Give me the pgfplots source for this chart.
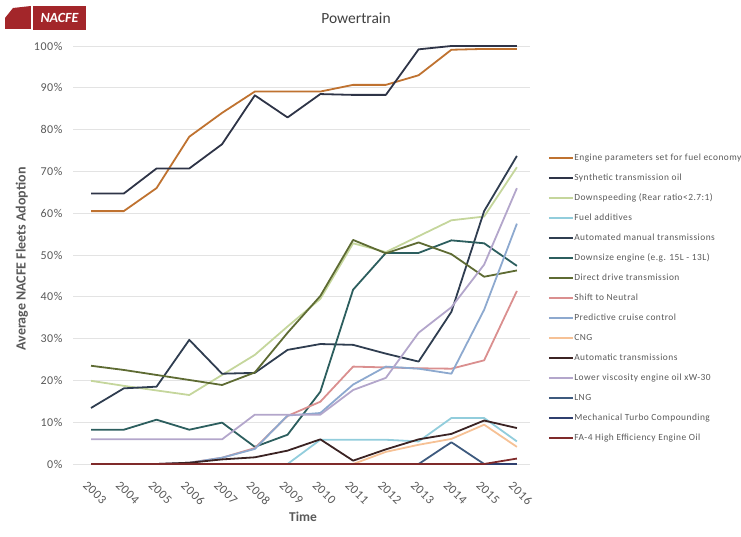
\documentclass[border=0pt]{standalone}
\usepackage{fontspec}
\setmainfont{Carlito}
\newfontfamily\legfont[LetterSpace=5]{Carlito}
\usepackage{pgfplots}
\usepackage{pgfplotstable}
\pgfplotsset{compat=1.18}
\definecolor{cEng}{HTML}{BF7230}
\definecolor{cSyn}{HTML}{2E3447}
\definecolor{cDown}{HTML}{C5D69C}
\definecolor{cFuel}{HTML}{92CDDC}
\definecolor{cAmt}{HTML}{2F3D50}
\definecolor{cDsz}{HTML}{2C5E5E}
\definecolor{cDdt}{HTML}{5E6B33}
\definecolor{cStn}{HTML}{DA8F8F}
\definecolor{cPcc}{HTML}{8DA9CF}
\definecolor{cCng}{HTML}{F6C195}
\definecolor{cAut}{HTML}{3B2323}
\definecolor{cLvo}{HTML}{B3A6CB}
\definecolor{cLng}{HTML}{3E5A7E}
\definecolor{cMtc}{HTML}{2F3F6E}
\definecolor{cFa}{HTML}{7F2A2A}
\definecolor{gridgray}{HTML}{E3E3E3}
\definecolor{tickgray}{HTML}{595959}
\definecolor{logored}{HTML}{A3262A}

\pgfplotstableread{
year eng  syn   down fuel amt  dsz  ddt  stn  pcc  cng aut  lvo  lng mtc fa
2003 60.5 64.7  19.9 0    13.4 8.2  23.5 0    0    0   0    5.9  0   0   0
2004 60.5 64.7  18.7 0    18.1 8.2  22.5 0    0    0   0    5.9  0   0   0
2005 66.0 70.7  17.6 0    18.5 10.6 21.3 0    0    0   0    5.9  0   0   0
2006 78.3 70.7  16.5 0    29.7 8.2  20.1 0.3  0.3  0   0.3  5.9  0   0   0
2007 84.0 76.5  21.3 0    21.6 9.9  18.9 1.5  1.5  0   1.1  5.9  0   0   0
2008 89.1 88.2  26.1 0    21.8 4.1  21.9 3.8  3.6  0   1.6  11.8 0   0   0
2009 89.1 82.9  32.9 0    27.3 7.0  31.4 11.5 11.6 0   3.2  11.8 0   0   0
2010 89.1 88.5  39.5 5.8  28.7 17.3 40.2 14.9 12.2 0   5.9  11.8 0   0   0
2011 90.7 88.3  52.8 5.8  28.5 41.7 53.6 23.3 19.0 0   0.8  17.7 0   0   0
2012 90.7 88.3  50.7 5.8  26.4 50.5 50.4 23.1 23.3 2.9 3.5  20.6 0   0   0
2013 93.0 99.2  54.5 5.4  24.5 50.5 53.0 22.9 22.8 4.6 5.9  31.4 0   0   0
2014 99.1 100   58.3 11.0 36.4 53.5 50.2 22.8 21.6 6.0 7.2  37.5 5.2 0   0
2015 99.3 100   59.2 11.0 60.5 52.8 44.8 24.8 36.9 9.4 10.4 47.7 0   0   0
2016 99.3 100   71.0 5.4  73.7 47.4 46.3 41.4 57.5 4.1 8.6  66.0 0   0   1.3
}\data

\begin{document}
\begin{tikzpicture}[x=1pt,y=1pt]
\path[use as bounding box] (0,0) rectangle (741,537);
\begin{axis}[
  at={(73pt,73pt)}, anchor=south west,
  scale only axis, width=457pt, height=418pt,
  xmin=2002.45, xmax=2016.4, ymin=0, ymax=100,
  clip=false,
  axis line style={draw=none},
  ymajorgrids, grid style={color=gridgray, line width=0.9pt},
  major tick length=0pt,
  xtick={2003,...,2016},
  xticklabels={2003,2004,2005,2006,2007,2008,2009,2010,2011,2012,2013,2014,2015,2016},
  ytick={0,10,...,100},
  yticklabels={0\%,10\%,20\%,30\%,40\%,50\%,60\%,70\%,80\%,90\%,100\%},
  y tick label style={font=\legfont\fontsize{12}{13}\selectfont, text=tickgray, xshift=-7pt},
  x tick label style={font=\legfont\fontsize{12.5}{14}\selectfont, text=tickgray, rotate=-45, anchor=north west, xshift=6pt, yshift=-10pt},
  legend cell align=left,
  legend image code/.code={\draw[#1] (0pt,0pt) -- (24pt,0pt);},
  legend style={at={(1.039,0.744)}, anchor=north west, draw=none, fill=none,
    font=\legfont\fontsize{9.4}{11}\selectfont, text=tickgray, row sep=11pt,
    inner sep=0pt, column sep=0pt,
    nodes={inner sep=0.5pt, text height=6.5pt, text depth=1.5pt}},
  every axis plot/.append style={line width=1.8pt, line join=round},
]
\addplot[cEng] table[x=year,y=eng]{\data};
\addlegendentry{Engine parameters set for fuel economy}
\addplot[cSyn] table[x=year,y=syn]{\data};
\addlegendentry{Synthetic transmission oil}
\addplot[cDown] table[x=year,y=down]{\data};
\addlegendentry{Downspeeding (Rear ratio<2.7:1)}
\addplot[cFuel] table[x=year,y=fuel]{\data};
\addlegendentry{Fuel additives}
\addplot[cAmt] table[x=year,y=amt]{\data};
\addlegendentry{Automated manual transmissions}
\addplot[cDsz] table[x=year,y=dsz]{\data};
\addlegendentry{Downsize engine (e.g. 15L - 13L)}
\addplot[cDdt] table[x=year,y=ddt]{\data};
\addlegendentry{Direct drive transmission}
\addplot[cStn] table[x=year,y=stn]{\data};
\addlegendentry{Shift to Neutral}
\addplot[cPcc] table[x=year,y=pcc]{\data};
\addlegendentry{Predictive cruise control}
\addplot[cCng] table[x=year,y=cng]{\data};
\addlegendentry{CNG}
\addplot[cAut] table[x=year,y=aut]{\data};
\addlegendentry{Automatic transmissions}
\addplot[cLvo] table[x=year,y=lvo]{\data};
\addlegendentry{Lower viscosity engine oil xW-30}
\addplot[cLng] table[x=year,y=lng]{\data};
\addlegendentry{LNG}
\addplot[cMtc] table[x=year,y=mtc]{\data};
\addlegendentry{Mechanical Turbo Compounding}
\addplot[cFa] table[x=year,y=fa]{\data};
\addlegendentry{FA-4 High Efficiency Engine Oil}
\end{axis}
\node[font=\fontsize{15.5}{18}\selectfont, text=black!75] at (356,519) {Powertrain};
\node[rotate=90, font=\bfseries\fontsize{14}{16}\selectfont, text=tickgray] at (22,278) {Average NACFE Fleets Adoption};
\node[font=\bfseries\fontsize{13.5}{16}\selectfont, text=tickgray] at (303,20) {Time};
\fill[logored] (5,508) -- (5,519) -- (13,529) -- (31,531) -- (31,508) -- cycle;
\fill[logored] (33,507) rectangle (86,531);
\draw[white, line width=0.8pt] (31.5,506) -- (31.5,532);
\node[font=\bfseries\itshape\fontsize{14}{16}\selectfont, text=white] at (59.5,519) {NACFE};
\end{tikzpicture}
\end{document}
